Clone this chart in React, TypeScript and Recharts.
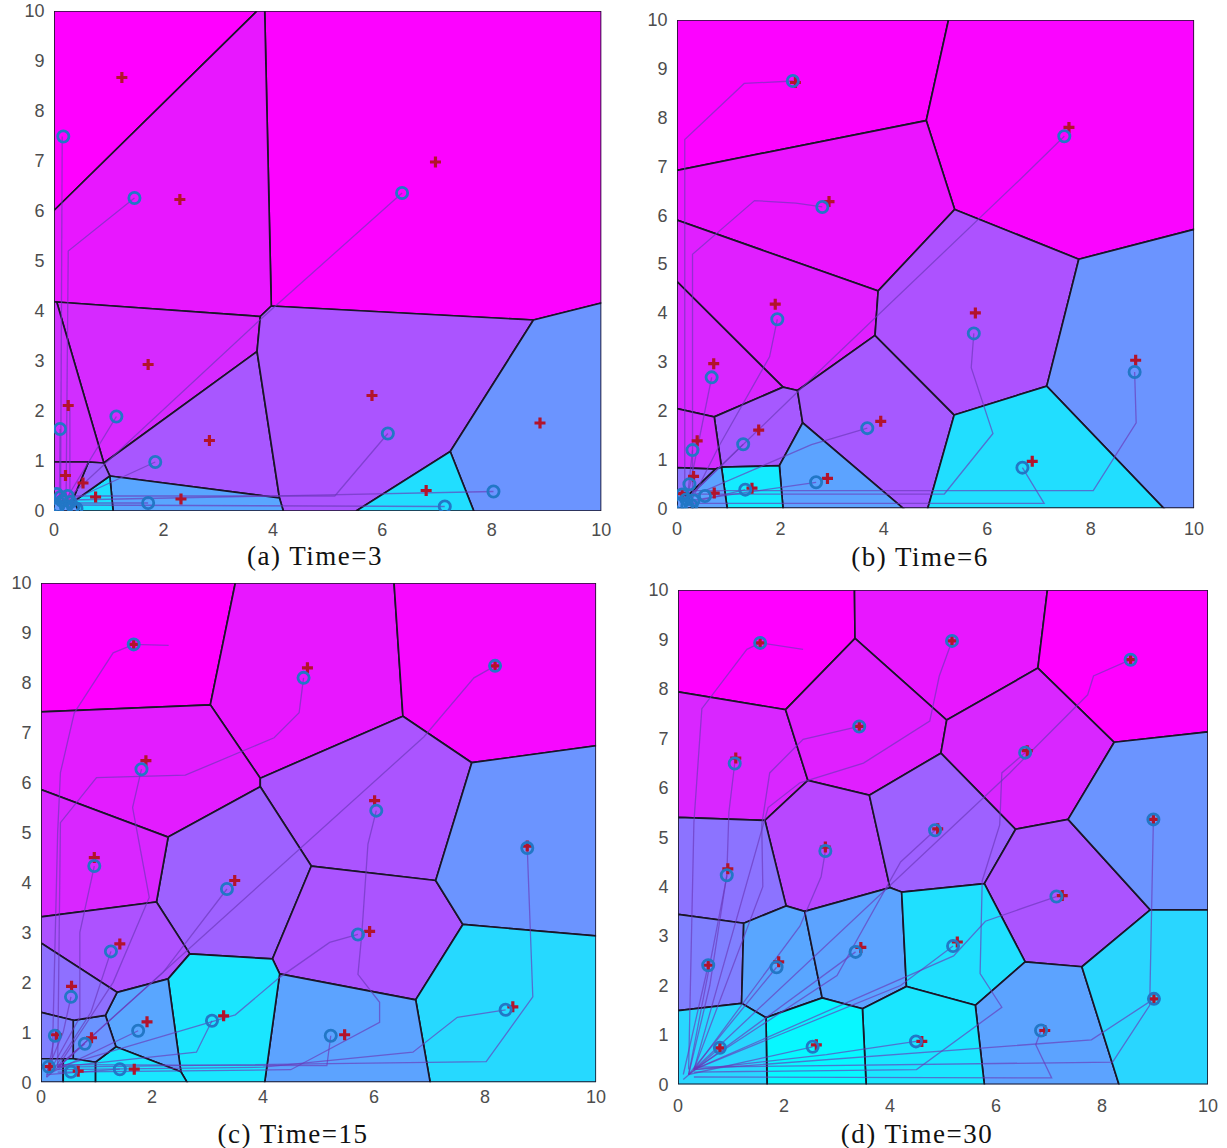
import React from "react";
import { Scatter, ScatterChart, XAxis, YAxis } from "recharts";

// Voronoi coverage snapshots at four time steps (0..10 x 0..10 field).
// Cells are polygons in data units; level is the position on the "cool" colormap.

type XY = [number, number];

const X_TICKS = [0, 2, 4, 6, 8, 10];
const Y_TICKS = [0, 1, 2, 3, 4, 5, 6, 7, 8, 9, 10];

// ---------------------------------------------------------------------------
// (a) Time=3
// ---------------------------------------------------------------------------
const cellsA: XY[][] = [
  [[0, 10], [3.71, 10], [0, 6.01]],
  [[3.85, 10], [10, 10], [10, 4.16], [8.76, 3.82], [3.97, 4.1]],
  [[0, 6.01], [3.71, 10], [3.85, 10], [3.97, 4.1], [3.77, 3.89], [0.05, 4.18], [0, 4.18]],
  [[0.05, 4.18], [3.77, 3.89], [3.71, 3.19], [0.91, 0.96]],
  [[0, 4.18], [0.05, 4.18], [0.91, 0.96], [0.63, 0.98], [0, 0.98]],
  [[0.91, 0.96], [3.71, 3.19], [4.12, 0.26], [1.02, 0.7]],
  [[3.97, 4.1], [8.76, 3.82], [7.24, 1.19], [5.52, 0], [4.19, 0], [4.12, 0.26], [3.71, 3.19], [3.77, 3.89]],
  [[8.76, 3.82], [10, 4.16], [10, 0], [7.67, 0], [7.24, 1.19]],
  [[5.52, 0], [7.24, 1.19], [7.67, 0]],
  [[1.02, 0.7], [4.12, 0.26], [4.19, 0], [1.08, 0]],
  [[0.36, 0.19], [1.02, 0.7], [1.08, 0], [0.45, 0]],
  [[0.63, 0.98], [0.91, 0.96], [1.02, 0.7], [0.36, 0.19], [0.33, 0.19]],
  [[0, 0.98], [0.63, 0.98], [0.33, 0.19], [0, 0.19]],
  [[0, 0.19], [0.36, 0.19], [0.45, 0], [0, 0]],
];
const levelsA = [1, 0.99, 0.91, 0.84, 0.82, 0.66, 0.67, 0.42, 0.13, 0.35, 0.12, 0.62, 0.8, 0.4];
const agentsA: XY[] = [
  [0.17, 7.49], [1.47, 6.26], [6.36, 6.36], [1.14, 1.89], [0.11, 1.64], [1.85, 0.98],
  [6.1, 1.55], [8.03, 0.39], [7.14, 0.09], [1.72, 0.16], [0.41, 0.05], [0.05, 0.34],
  [0.08, 0.1], [0.15, 0.2], [0.22, 0.08], [0.3, 0.18], [0.12, 0.28], [0.25, 0.3], [0.05, 0.05], [0.35, 0.08],
];
const targetsA: XY[] = [
  [1.24, 8.67], [2.3, 6.23], [6.97, 6.98], [1.72, 2.93], [0.26, 2.11], [2.84, 1.41], [5.81, 2.31],
  [8.88, 1.76], [6.8, 0.41], [2.32, 0.24], [0.76, 0.28], [0.21, 0.71], [0.53, 0.56],
];
const pathsA: XY[][] = [
  [[0.12, 0.1], [0.15, 7.49]],
  [[0.22, 0.1], [0.26, 5.2], [1.47, 6.26]],
  [[0.2, 0.2], [3.78, 3.84], [6.36, 6.36]],
  [[0.2, 0.2], [1.14, 1.89]],
  [[0.2, 0.15], [1.85, 0.98]],
  [[0.3, 0.3], [5.13, 0.3], [6.1, 1.55]],
  [[0.3, 0.22], [8.03, 0.39]],
  [[0.3, 0.12], [7.14, 0.09]],
  [[0.3, 0.16], [1.72, 0.16]],
  [[0.1, 0.2], [0.11, 1.64]],
  [[0.29, 0.1], [0.29, 2.1]],
];

// ---------------------------------------------------------------------------
// (b) Time=6
// ---------------------------------------------------------------------------
const cellsB: XY[][] = [
  [[0, 10], [5.25, 10], [4.82, 7.94], [0, 6.92]],
  [[5.25, 10], [10, 10], [10, 5.71], [7.77, 5.1], [5.37, 6.12], [4.82, 7.94]],
  [[0, 6.92], [4.82, 7.94], [5.37, 6.12], [3.89, 4.45], [0, 5.9]],
  [[0, 5.9], [3.89, 4.45], [3.83, 3.54], [2.33, 2.41], [2.05, 2.48], [0, 4.64]],
  [[0, 4.64], [2.05, 2.48], [0.72, 1.87], [0, 2.04]],
  [[0.72, 1.87], [2.05, 2.48], [2.33, 2.41], [2.43, 1.75], [1.98, 0.87], [0.86, 0.84]],
  [[0, 2.04], [0.72, 1.87], [0.86, 0.84], [0.74, 0.8], [0, 0.83]],
  [[2.33, 2.41], [3.83, 3.54], [5.36, 1.91], [4.85, 0], [4.37, 0], [2.43, 1.75]],
  [[3.89, 4.45], [5.37, 6.12], [7.77, 5.1], [7.15, 2.5], [5.36, 1.91], [3.83, 3.54]],
  [[7.77, 5.1], [10, 5.71], [10, 0], [9.41, 0], [7.15, 2.5]],
  [[5.36, 1.91], [7.15, 2.5], [9.41, 0], [4.85, 0]],
  [[1.98, 0.87], [2.43, 1.75], [4.37, 0], [2.05, 0]],
  [[0.86, 0.84], [1.98, 0.87], [2.05, 0], [0.97, 0]],
  [[0.74, 0.8], [0.86, 0.84], [0.97, 0], [0.3, 0], [0.2, 0.25]],
  [[0, 0.83], [0.74, 0.8], [0.2, 0.25], [0, 0.3]],
  [[0, 0.3], [0.2, 0.25], [0.3, 0], [0, 0]],
];
const levelsB = [0.99, 0.98, 0.92, 0.88, 0.85, 0.65, 0.82, 0.65, 0.68, 0.42, 0.13, 0.36, 0.08, 0.36, 0.55, 0.4];
const agentsB: XY[] = [
  [2.24, 8.75], [7.49, 7.62], [2.81, 6.17], [1.94, 3.87], [5.74, 3.58], [8.85, 2.79], [0.67, 2.68],
  [3.68, 1.64], [1.28, 1.31], [0.3, 1.19], [6.68, 0.83], [2.69, 0.53], [1.32, 0.38], [0.54, 0.25],
  [0.24, 0.49], [0.08, 0.1], [0.18, 0.18], [0.28, 0.06], [0.1, 0.28], [0.32, 0.16], [0.2, 0.05],
];
const targetsB: XY[] = [
  [2.29, 8.72], [7.58, 7.8], [2.94, 6.28], [1.9, 4.18], [5.77, 4.0], [8.87, 3.03], [0.71, 2.96],
  [3.94, 1.78], [1.58, 1.6], [0.39, 1.38], [6.87, 0.96], [2.91, 0.61], [1.45, 0.41], [0.72, 0.31],
  [0.32, 0.65], [0.1, 0.3],
];
const pathsB: XY[][] = [
  [[0.15, 0.2], [0.15, 7.55], [1.3, 8.7], [2.24, 8.75]],
  [[0.2, 0.2], [2.35, 2.4], [6.66, 6.76], [7.49, 7.62]],
  [[0.3, 0.3], [0.3, 5.2], [1.5, 6.3], [2.3, 6.25], [2.81, 6.17]],
  [[0.3, 0.2], [0.81, 1.27], [1.79, 3.1], [1.94, 3.87]],
  [[0.3, 0.29], [5.17, 0.29], [6.11, 1.53], [5.69, 2.88], [5.74, 3.58]],
  [[0.3, 0.36], [8.05, 0.36], [8.88, 1.75], [8.85, 2.79]],
  [[0.2, 0.2], [0.67, 2.68]],
  [[0.3, 0.25], [2.6, 1.3], [3.68, 1.64]],
  [[0.2, 0.1], [7.1, 0.1], [6.68, 0.83]],
  [[0.2, 0.2], [1.28, 1.31]],
  [[0.2, 0.15], [2.69, 0.53]],
  [[0.2, 0.2], [0.3, 1.19]],
  [[0.2, 0.1], [1.32, 0.38]],
];

// ---------------------------------------------------------------------------
// (c) Time=15
// ---------------------------------------------------------------------------
const cellsC: XY[][] = [
  [[0, 10], [3.5, 10], [3.05, 7.56], [0, 7.42]],
  [[3.5, 10], [6.36, 10], [6.52, 7.33], [3.95, 6.09], [3.05, 7.56]],
  [[6.36, 10], [10, 10], [10, 6.74], [7.76, 6.4], [6.52, 7.33]],
  [[0, 7.42], [3.05, 7.56], [3.95, 6.09], [3.95, 5.92], [2.29, 4.91], [0, 5.86]],
  [[3.95, 6.09], [6.52, 7.33], [7.76, 6.4], [7.11, 4.04], [4.87, 4.33], [3.95, 5.92]],
  [[2.29, 4.91], [3.95, 5.92], [4.87, 4.33], [4.17, 2.47], [2.68, 2.57], [2.08, 3.61]],
  [[0, 5.86], [2.29, 4.91], [2.08, 3.61], [0, 3.31]],
  [[0, 3.31], [2.08, 3.61], [2.68, 2.57], [2.29, 2.07], [1.37, 1.8], [0, 2.79]],
  [[4.87, 4.33], [7.11, 4.04], [7.6, 3.16], [6.75, 1.65], [4.3, 2.17], [4.17, 2.47]],
  [[7.76, 6.4], [10, 6.74], [10, 2.93], [7.6, 3.16], [7.11, 4.04]],
  [[7.6, 3.16], [10, 2.93], [10, 0], [7.01, 0], [6.75, 1.65]],
  [[4.3, 2.17], [6.75, 1.65], [7.01, 0], [4.03, 0]],
  [[2.68, 2.57], [4.17, 2.47], [4.3, 2.17], [4.03, 0], [2.63, 0], [2.52, 0.21], [2.29, 2.07]],
  [[1.37, 1.8], [2.29, 2.07], [2.52, 0.21], [1.35, 0.71], [1.16, 1.34]],
  [[1.35, 0.71], [2.52, 0.21], [2.63, 0], [0.98, 0], [0.98, 0.4]],
  [[0.58, 1.24], [1.16, 1.34], [1.35, 0.71], [0.98, 0.4], [0.58, 0.47]],
  [[0, 2.79], [1.37, 1.8], [1.16, 1.34], [0.58, 1.24], [0, 1.4]],
  [[0, 1.4], [0.58, 1.24], [0.58, 0.47], [0, 0.47]],
  [[0, 0.47], [0.4, 0.47], [0.4, 0], [0, 0]],
  [[0.4, 0.47], [0.58, 0.47], [0.98, 0.4], [0.98, 0], [0.4, 0]],
];
const levelsC = [1, 0.91, 0.97, 0.89, 0.67, 0.62, 0.85, 0.68, 0.67, 0.42, 0.15, 0.36, 0.1, 0.35, 0.1, 0.42, 0.56, 0.5, 0.36, 0.12];
const agentsC: XY[] = [
  [1.67, 8.77], [4.73, 8.1], [8.18, 8.34], [1.81, 6.27], [6.04, 5.44], [0.96, 4.33], [8.76, 4.69],
  [3.35, 3.87], [5.71, 2.96], [1.26, 2.62], [0.54, 1.71], [8.37, 1.45], [3.08, 1.23], [1.75, 1.03],
  [5.22, 0.93], [0.25, 0.93], [0.79, 0.77], [1.42, 0.26], [0.14, 0.31], [0.54, 0.21],
];
const targetsC: XY[] = [
  [1.67, 8.77], [4.8, 8.3], [8.18, 8.34], [1.89, 6.44], [6.01, 5.64], [0.96, 4.5], [8.76, 4.73],
  [3.49, 4.04], [5.92, 3.02], [1.42, 2.77], [0.55, 1.92], [8.5, 1.51], [3.29, 1.33], [1.91, 1.21],
  [5.47, 0.95], [0.28, 0.95], [0.91, 0.89], [1.68, 0.26], [0.16, 0.31], [0.67, 0.22],
];
const pathsC: XY[][] = [
  [[0.2, 0.3], [0.3, 5.0], [0.35, 6.2], [0.6, 7.4], [1.3, 8.6], [1.67, 8.77], [2.3, 8.75]],
  [[0.3, 0.3], [0.35, 5.2], [1.0, 6.1], [2.6, 6.15], [4.2, 6.9], [4.65, 7.4], [4.73, 8.1]],
  [[0.3, 0.3], [6.9, 6.92], [7.8, 8.1], [8.18, 8.34]],
  [[0.3, 0.3], [1.3, 2.0], [1.95, 3.7], [1.65, 5.5], [1.81, 6.27]],
  [[0.3, 0.2], [4.5, 0.25], [6.1, 1.2], [6.1, 1.6], [5.71, 2.16], [5.78, 2.98], [5.89, 4.77], [6.04, 5.44]],
  [[0.2, 0.3], [0.7, 1.3], [0.7, 3.0], [0.96, 4.33]],
  [[0.3, 0.3], [8.02, 0.41], [8.86, 1.71], [8.76, 4.69]],
  [[0.3, 0.3], [2.2, 2.2], [3.35, 3.87]],
  [[0.3, 0.3], [3.5, 1.35], [4.3, 2.1], [5.2, 2.8], [5.71, 2.96]],
  [[0.2, 0.2], [0.9, 1.4], [1.26, 2.62]],
  [[0.1, 0.2], [0.4, 1.0], [0.54, 1.71]],
  [[0.3, 0.25], [4.0, 0.3], [6.7, 0.6], [7.5, 1.3], [8.37, 1.45]],
  [[0.3, 0.3], [2.8, 0.6], [3.08, 1.23]],
  [[0.2, 0.2], [1.75, 1.03]],
  [[0.3, 0.35], [5.15, 0.33], [5.22, 0.93]],
  [[0.1, 0.1], [0.25, 0.93]],
  [[0.1, 0.1], [0.79, 0.77]],
  [[0.1, 0.15], [1.42, 0.26]],
];

// ---------------------------------------------------------------------------
// (d) Time=30
// ---------------------------------------------------------------------------
const cellsD: XY[][] = [
  [[0, 10], [3.33, 10], [3.34, 9.02], [2.03, 7.58], [0, 7.94]],
  [[3.33, 10], [6.97, 10], [6.79, 8.42], [5.07, 7.37], [3.34, 9.02]],
  [[6.97, 10], [10, 10], [10, 7.13], [8.23, 6.92], [6.79, 8.42]],
  [[0, 7.94], [2.03, 7.58], [2.45, 6.15], [1.64, 5.34], [0, 5.4]],
  [[2.03, 7.58], [3.34, 9.02], [5.07, 7.37], [4.96, 6.7], [3.61, 5.85], [2.45, 6.15]],
  [[5.07, 7.37], [6.79, 8.42], [8.23, 6.92], [7.36, 5.36], [6.37, 5.16], [4.96, 6.7]],
  [[1.64, 5.34], [2.45, 6.15], [3.61, 5.85], [4.0, 3.98], [2.39, 3.5], [2.04, 3.61]],
  [[3.61, 5.85], [4.96, 6.7], [6.37, 5.16], [5.78, 4.06], [4.22, 3.89], [4.0, 3.98]],
  [[6.37, 5.16], [7.36, 5.36], [8.91, 3.53], [7.62, 2.38], [6.55, 2.48], [5.78, 4.06]],
  [[8.23, 6.92], [10, 7.13], [10, 3.53], [8.91, 3.53], [7.36, 5.36]],
  [[0, 5.4], [1.64, 5.34], [2.04, 3.61], [1.24, 3.26], [0, 3.44]],
  [[0, 3.44], [1.24, 3.26], [1.2, 1.64], [0, 1.49]],
  [[1.24, 3.26], [2.04, 3.61], [2.39, 3.5], [2.72, 1.75], [1.66, 1.35], [1.2, 1.64]],
  [[2.39, 3.5], [4.0, 3.98], [4.22, 3.89], [4.31, 1.98], [3.48, 1.53], [2.72, 1.75]],
  [[4.22, 3.89], [5.78, 4.06], [6.55, 2.48], [5.61, 1.6], [4.31, 1.98]],
  [[5.61, 1.6], [6.55, 2.48], [7.62, 2.38], [8.32, 0], [5.78, 0]],
  [[8.91, 3.53], [10, 3.53], [10, 0], [8.32, 0], [7.62, 2.38]],
  [[3.48, 1.53], [4.31, 1.98], [5.61, 1.6], [5.78, 0], [3.55, 0]],
  [[1.66, 1.35], [2.72, 1.75], [3.48, 1.53], [3.55, 0], [1.68, 0]],
  [[0, 1.49], [1.2, 1.64], [1.66, 1.35], [1.68, 0], [0, 0]],
];
const levelsD = [1, 0.91, 1, 0.85, 0.88, 0.85, 0.72, 0.62, 0.67, 0.42, 0.55, 0.5, 0.35, 0.36, 0.12, 0.36, 0.16, 0.1, 0.03, 0.16];
const agentsD: XY[] = [
  [1.55, 8.93], [5.17, 8.97], [8.54, 8.59], [3.42, 7.24], [1.07, 6.49], [6.55, 6.71], [4.85, 5.14],
  [8.97, 5.36], [2.78, 4.72], [0.92, 4.23], [7.14, 3.8], [5.19, 2.8], [3.35, 2.68], [1.86, 2.37],
  [0.57, 2.41], [8.98, 1.73], [6.85, 1.09], [4.49, 0.87], [2.54, 0.76], [0.79, 0.74],
];
const targetsD: XY[] = [
  [1.55, 8.93], [5.17, 8.97], [8.54, 8.59], [3.42, 7.24], [1.09, 6.6], [6.59, 6.75], [4.9, 5.17],
  [8.97, 5.36], [2.78, 4.8], [0.94, 4.36], [7.25, 3.82], [5.27, 2.88], [3.45, 2.77], [1.9, 2.48],
  [0.57, 2.41], [8.98, 1.73], [6.92, 1.09], [4.6, 0.87], [2.61, 0.8], [0.79, 0.74],
];
const pathsD: XY[][] = [
  [[0.2, 0.3], [0.3, 5.3], [0.45, 7.6], [1.3, 8.8], [1.55, 8.93], [2.36, 8.8]],
  [[0.3, 0.3], [1.7, 5.6], [2.3, 6.1], [3.5, 6.5], [4.75, 7.35], [4.93, 8.26], [5.17, 8.97]],
  [[0.3, 0.3], [6.26, 6.3], [7.73, 7.88], [7.84, 8.26], [8.54, 8.59]],
  [[0.3, 0.3], [1.6, 4.0], [1.58, 5.25], [1.73, 6.3], [2.36, 6.98], [3.42, 7.24]],
  [[0.2, 0.2], [0.92, 4.2], [0.96, 5.5], [1.07, 6.49]],
  [[0.3, 0.25], [4.5, 0.3], [6.11, 1.56], [5.7, 2.24], [5.74, 4.12], [6.07, 5.25], [6.11, 6.3], [6.55, 6.71]],
  [[0.3, 0.3], [3.0, 2.2], [4.2, 4.5], [4.85, 5.14]],
  [[0.3, 0.35], [8.2, 0.45], [8.9, 1.6], [8.97, 5.36]],
  [[0.3, 0.3], [2.3, 3.2], [2.7, 4.2], [2.78, 4.72]],
  [[0.2, 0.2], [0.6, 2.0], [0.92, 4.23]],
  [[0.3, 0.3], [5.2, 2.6], [5.8, 3.3], [6.6, 3.6], [7.14, 3.8]],
  [[0.3, 0.3], [4.2, 2.0], [5.19, 2.8]],
  [[0.2, 0.2], [3.35, 2.68]],
  [[0.2, 0.2], [1.86, 2.37]],
  [[0.1, 0.2], [0.57, 2.41]],
  [[0.3, 0.3], [7.8, 0.9], [8.98, 1.73]],
  [[0.3, 0.15], [7.05, 0.13], [6.75, 0.8], [6.85, 1.09]],
  [[0.3, 0.3], [2.8, 0.6], [4.49, 0.87]],
  [[0.2, 0.2], [2.54, 0.76]],
  [[0.1, 0.1], [0.79, 0.74]],
];

// ---------------------------------------------------------------------------

const YW = 50;
const XH = 40;
const MT = 12;
const MR = 22;
const EDGE = "#1a1528";
const AGENT = "#2277c6";
const TARGET = "#b3132b";
const PATH = "#6a38b8";

const TICK = { fill: "#4d4d4d", fontSize: 18, fontFamily: "'Liberation Sans', Arial, sans-serif" };

const cool = (t: number) => `rgb(${Math.round(255 * t)},${Math.round(255 * (1 - t))},255)`;
const pts = (list: XY[]) => list.map(([x, y]) => ({ x, y }));
const ring = (list: XY[]) => pts([...list, list[0]]);

const noDot = () => null;
const Ring = (p: any) => (
  <circle cx={p.cx} cy={p.cy} r={5.6} fill="none" stroke={AGENT} strokeWidth={2.8} />
);
const Plus = (p: any) => (
  <path
    d={`M${p.cx - 5.5},${p.cy}H${p.cx + 5.5}M${p.cx},${p.cy - 5.5}V${p.cy + 5.5}`}
    stroke={TARGET}
    strokeWidth={3.2}
    fill="none"
  />
);

interface Box { left: number; top: number; right: number; bottom: number }

interface PanelProps {
  cells: XY[][];
  levels: number[];
  agents: XY[];
  targets: XY[];
  paths: XY[][];
  box: Box;
  xGap: number;
  caption: string;
  capX: number;
  capBase: number;
}

function Panel({ cells, levels, agents, targets, paths, box, xGap, caption, capX, capBase }: PanelProps) {
  const w = box.right - box.left;
  const h = box.bottom - box.top;
  return (
    <>
      <div style={{ position: "absolute", left: box.left - YW, top: box.top - MT }}>
        <ScatterChart
          width={w + YW + MR}
          height={h + MT + XH}
          margin={{ top: MT, right: MR, bottom: 0, left: 0 }}
        >
          <XAxis
            type="number"
            dataKey="x"
            domain={[0, 10]}
            ticks={X_TICKS}
            interval={0}
            allowDataOverflow
            axisLine={false}
            tickLine={false}
            tickMargin={xGap}
            height={XH}
            tick={TICK}
          />
          <YAxis
            type="number"
            dataKey="y"
            domain={[0, 10]}
            ticks={Y_TICKS}
            interval={0}
            allowDataOverflow
            axisLine={false}
            tickLine={false}
            tickMargin={3.5}
            width={YW}
            tick={TICK}
          />
          {cells.map((c, i) => (
            <Scatter
              key={`cell${i}`}
              data={ring(c)}
              line={{ fill: cool(levels[i]), stroke: EDGE, strokeWidth: 1.7 }}
              shape={noDot}
              isAnimationActive={false}
            />
          ))}
          {paths.map((p, i) => (
            <Scatter
              key={`path${i}`}
              data={pts(p)}
              line={{ fill: "none", stroke: PATH, strokeWidth: 1.3, strokeOpacity: 0.65 }}
              shape={noDot}
              isAnimationActive={false}
            />
          ))}
          <Scatter data={pts(targets)} shape={Plus} isAnimationActive={false} />
          <Scatter data={pts(agents)} shape={Ring} isAnimationActive={false} />
        </ScatterChart>
      </div>
      <div
        style={{
          position: "absolute",
          left: capX - 150,
          width: 300,
          top: capBase - 19,
          textAlign: "center",
          fontFamily: "'Liberation Serif', 'Times New Roman', serif",
          fontSize: 27,
          lineHeight: "20px",
          letterSpacing: 1.5,
          color: "#111",
          whiteSpace: "nowrap",
        }}
      >
        {caption}
      </div>
    </>
  );
}

export default function App() {
  return (
    <div style={{ position: "absolute", left: 0, top: 0, width: 1227, height: 1148, background: "#fff", overflow: "hidden" }}>
      <Panel
        cells={cellsA}
        levels={levelsA}
        agents={agentsA}
        targets={targetsA}
        paths={pathsA}
        box={{ left: 53.7, top: 11.4, right: 601, bottom: 511.4 }}
        xGap={6.5}
        caption="(a) Time=3"
        capX={315}
        capBase={565}
      />
      <Panel
        cells={cellsB}
        levels={levelsB}
        agents={agentsB}
        targets={targetsB}
        paths={pathsB}
        box={{ left: 676.7, top: 20.4, right: 1193.8, bottom: 508.6 }}
        xGap={8}
        caption="(b) Time=6"
        capX={920}
        capBase={566}
      />
      <Panel
        cells={cellsC}
        levels={levelsC}
        agents={agentsC}
        targets={targetsC}
        paths={pathsC}
        box={{ left: 40.9, top: 582.5, right: 596, bottom: 1081.7 }}
        xGap={2}
        caption="(c) Time=15"
        capX={293}
        capBase={1143}
      />
      <Panel
        cells={cellsD}
        levels={levelsD}
        agents={agentsD}
        targets={targetsD}
        paths={pathsD}
        box={{ left: 677.5, top: 590.3, right: 1207.5, bottom: 1084.7 }}
        xGap={9.3}
        caption="(d) Time=30"
        capX={917}
        capBase={1143}
      />
    </div>
  );
}
